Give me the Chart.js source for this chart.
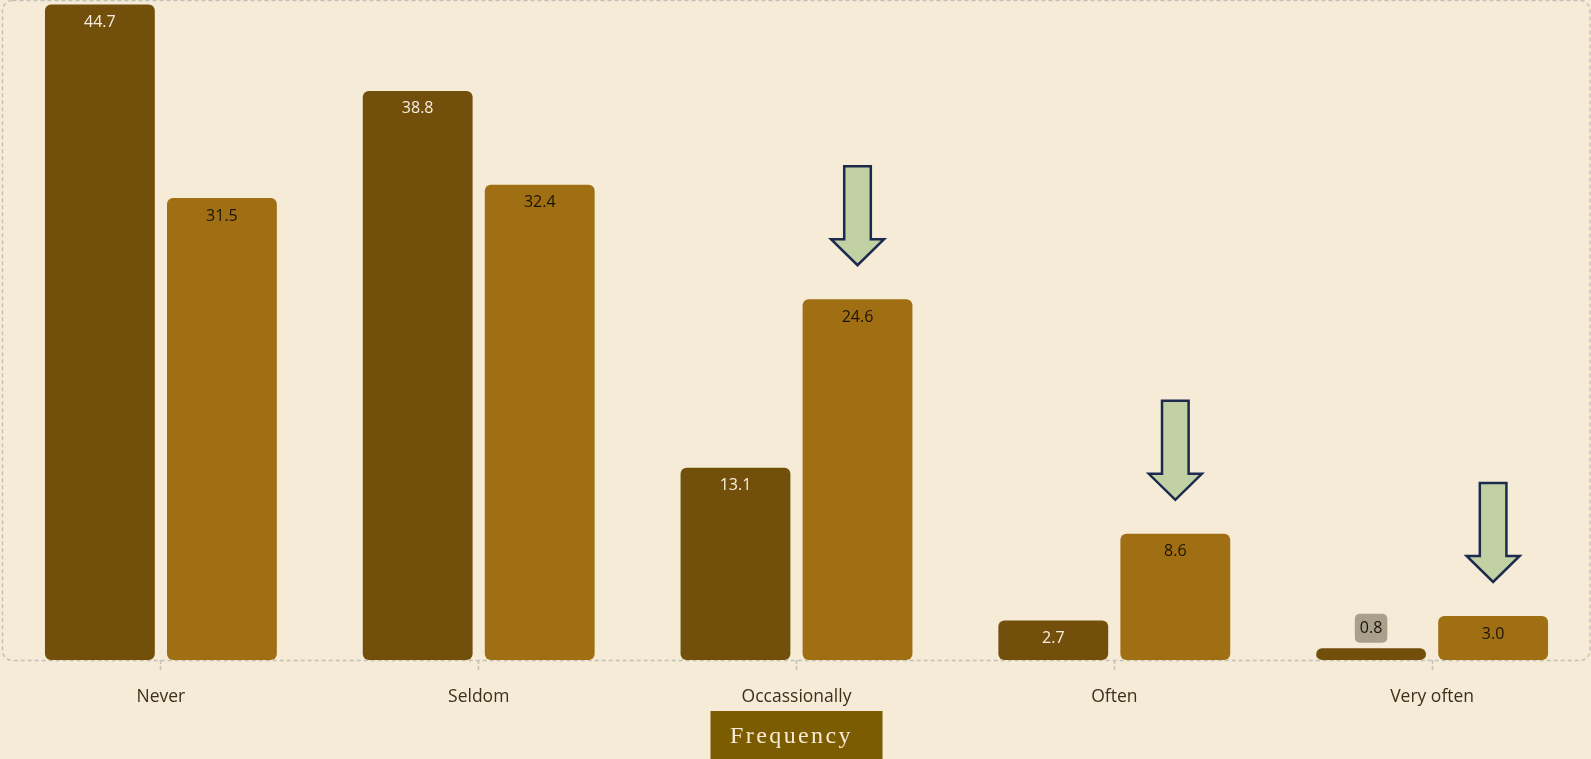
<!DOCTYPE html>
<html>
<head>
<meta charset="utf-8">
<script src="https://cdn.jsdelivr.net/npm/chart.js@4.4.1/dist/chart.umd.min.js"></script>
<style>
  html, body { margin: 0; padding: 0; background: #f5ebd7; }
  #wrap { width: 1591px; height: 759px; position: relative; }
</style>
</head>
<body>
<div id="wrap"><canvas id="chart"></canvas></div>
<script>
// Frequency categories and the two series (percent)
const categories = ['Never', 'Seldom', 'Occassionally', 'Often', 'Very often'];
const seriesBefore = [44.7, 38.8, 13.1, 2.7, 0.8];
const seriesAfter = [31.5, 32.4, 24.6, 8.6, 3.0];
// Categories whose second bar gets a pointer arrow
const highlighted = ['Occassionally', 'Often', 'Very often'];
const axisTitle = 'Frequency';

const DARK = '#724f0b';
const LIGHT = '#a06f13';

// Dashed rounded frame around the plot area
const framePlugin = {
  id: 'frame',
  beforeDatasetsDraw(chart) {
    const { ctx, chartArea: a } = chart;
    ctx.save();
    ctx.strokeStyle = '#c4c0b7';
    ctx.lineWidth = 1.4;
    ctx.setLineDash([4, 3]);
    ctx.beginPath();
    ctx.roundRect(a.left + 0.5, a.top + 0.5, a.right - a.left - 1.5, a.bottom - a.top, 10);
    ctx.stroke();
    ctx.restore();
  }
};

// Value labels: inside the top of the bar, or in a small box above short bars
const valueLabelPlugin = {
  id: 'valueLabels',
  afterDatasetsDraw(chart) {
    const { ctx } = chart;
    ctx.save();
    ctx.font = '16px "Open Sans"';
    ctx.textAlign = 'center';
    ctx.textBaseline = 'middle';
    chart.data.datasets.forEach((ds, di) => {
      const meta = chart.getDatasetMeta(di);
      meta.data.forEach((bar, i) => {
        const v = ds.data[i];
        const text = v.toFixed(1);
        const h = bar.base - bar.y;
        if (h >= 30) {
          ctx.fillStyle = di === 0 ? '#f7efe0' : '#1a1408';
          ctx.fillText(text, bar.x, bar.y + 18);
        } else {
          const w = ctx.measureText(text).width + 10;
          const bh = 29;
          const cy = bar.y - 20;
          ctx.fillStyle = '#a89f8c';
          ctx.beginPath();
          ctx.roundRect(bar.x - w / 2, cy - bh / 2, w, bh, 5);
          ctx.fill();
          ctx.fillStyle = '#1a1408';
          ctx.fillText(text, bar.x, cy);
        }
      });
    });
    ctx.restore();
  }
};

// Down arrows pointing at the highlighted bars of the second series
const arrowPlugin = {
  id: 'arrows',
  afterDatasetsDraw(chart) {
    const { ctx } = chart;
    const meta = chart.getDatasetMeta(1);
    ctx.save();
    ctx.fillStyle = '#c2d1a4';
    ctx.strokeStyle = '#1c2b4d';
    ctx.lineWidth = 2.5;
    ctx.lineJoin = 'miter';
    highlighted.forEach(cat => {
      const i = categories.indexOf(cat);
      const bar = meta.data[i];
      const tip = bar.y - 34;
      const top = tip - 99;
      const headBase = tip - 26;
      const sw = 13.3, hw = 26.5, x = bar.x;
      ctx.beginPath();
      ctx.moveTo(x - sw, top);
      ctx.lineTo(x + sw, top);
      ctx.lineTo(x + sw, headBase);
      ctx.lineTo(x + hw, headBase);
      ctx.lineTo(x, tip);
      ctx.lineTo(x - hw, headBase);
      ctx.lineTo(x - sw, headBase);
      ctx.closePath();
      ctx.fill();
      ctx.stroke();
    });
    ctx.restore();
  }
};

// Axis title in a filled box under the category labels
const titleBoxPlugin = {
  id: 'titleBox',
  afterDraw(chart) {
    const { ctx, chartArea: a } = chart;
    const cx = (a.left + a.right) / 2;
    const w = 172, h = 48;
    const top = chart.height - h;
    ctx.save();
    ctx.fillStyle = '#7b5c00';
    ctx.fillRect(cx - w / 2, top, w, h);
    ctx.fillStyle = '#f5ebd7';
    ctx.font = '24px "Liberation Serif"';
    ctx.letterSpacing = '2.4px';
    ctx.textAlign = 'center';
    ctx.textBaseline = 'middle';
    ctx.fillText(axisTitle, cx - 5, top + h / 2 + 2);
    ctx.restore();
  }
};

new Chart(document.getElementById('chart'), {
  type: 'bar',
  data: {
    labels: categories,
    datasets: [
      {
        data: seriesBefore,
        backgroundColor: DARK,
        borderWidth: 0,
        borderRadius: 6,
        borderSkipped: false,
        categoryPercentage: 0.768,
        barPercentage: 0.9
      },
      {
        data: seriesAfter,
        backgroundColor: LIGHT,
        borderWidth: 0,
        borderRadius: 6,
        borderSkipped: false,
        categoryPercentage: 0.768,
        barPercentage: 0.9
      }
    ]
  },
  options: {
    responsive: true,
    maintainAspectRatio: false,
    animation: false,
    layout: { padding: { left: 2, right: 0, top: 0, bottom: 0 } },
    plugins: {
      legend: { display: false },
      tooltip: { enabled: false },
      title: { display: false }
    },
    scales: {
      y: {
        display: false,
        min: 0,
        max: 45
      },
      x: {
        offset: true,
        grid: {
          display: true,
          offset: false,
          drawOnChartArea: false,
          drawTicks: true,
          tickLength: 12,
          tickColor: '#c4c0b7',
          tickWidth: 1.5,
          tickBorderDash: [4, 2]
        },
        border: { display: false },
        ticks: {
          color: '#3d2f1a',
          font: { family: 'Open Sans', size: 17.5 },
          padding: 15
        },
        afterFit(scale) { scale.height = 99; }
      }
    }
  },
  plugins: [framePlugin, valueLabelPlugin, arrowPlugin, titleBoxPlugin]
});
</script>
</body>
</html>
